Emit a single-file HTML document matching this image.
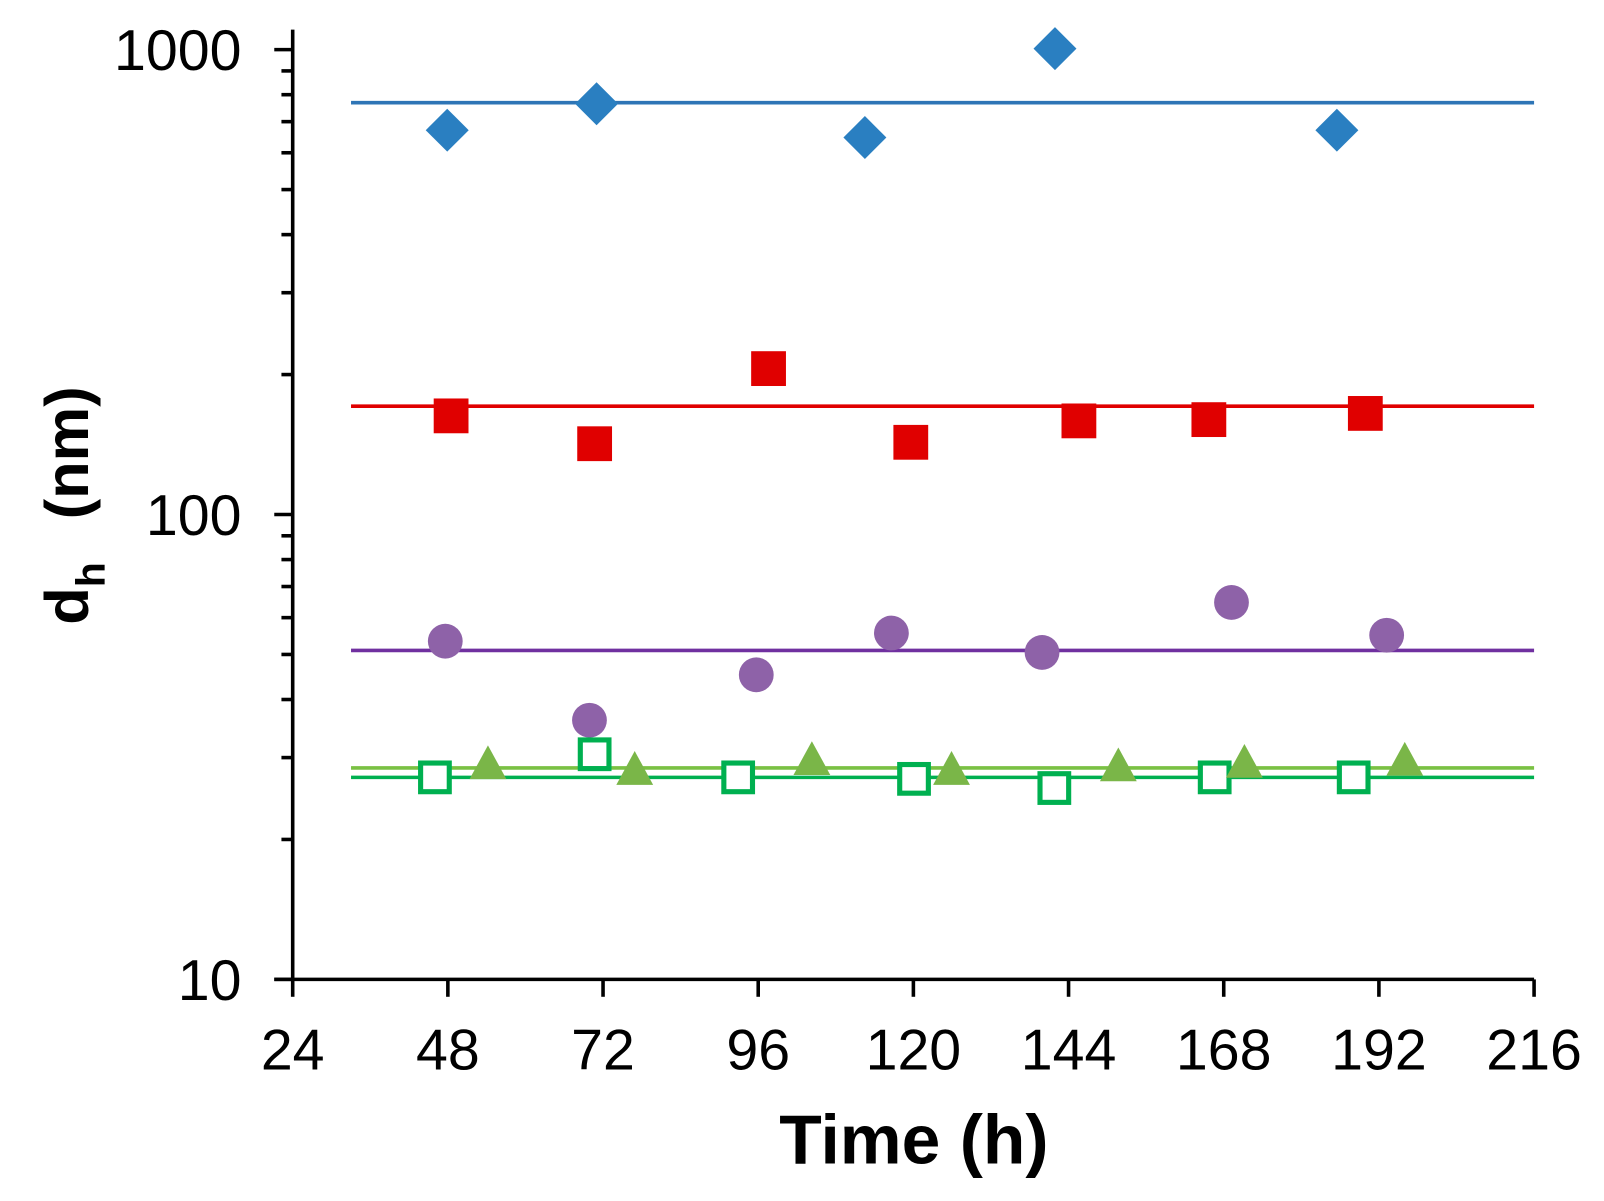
<!DOCTYPE html>
<html><head><meta charset="utf-8"><style>
html,body{margin:0;padding:0;background:#fff;}
svg{display:block;font-family:"Liberation Sans",Arial,sans-serif;}
</style></head><body>
<svg id="chart" width="1604" height="1201" viewBox="0 0 1604 1201">
<g transform="scale(1.0234)">
<g id="axes"></g><g id="series"></g>
<text x="893" y="1137" text-anchor="middle" font-size="68" font-weight="bold">Time (h)</text>
<text transform="translate(86,494) rotate(-90)" text-anchor="middle" font-size="60" font-weight="bold">d<tspan font-size="40" dy="16">h</tspan><tspan dy="-16" dx="42">(nm)</tspan></text>
</g>
</svg>
<script>
const xTicks=[24,48,72,96,120,144,168,192,216];
const yMajor=[10,100,1000];
const blueX=[47.9,71.0,112.5,141.9,185.5];
const blueY=[671,765,647,1005,671];
const blueFit=769;
const redX=[48.5,70.7,97.6,119.6,145.6,165.7,189.9];
const redY=[163,142,206,143,159,160,165];
const redFit=171;
const purpleX=[47.6,69.9,95.7,116.6,139.9,169.2,193.2];
const purpleY=[53.4,36.1,45.2,55.6,50.5,64.7,55.0];
const purpleFit=51;
const greenX=[46,70.7,92.9,120.1,141.8,166.6,188.1];
const greenY=[27.2,30.5,27.2,27.0,25.8,27.2,27.2];
const greenFit=27.2;
const limeX=[54.2,76.9,104.3,125.9,151.7,171.2,196.0];
const limeY=[28.8,28.0,29.4,28.0,28.5,29.0,29.3];
const limeFit=28.5;

const NS="http://www.w3.org/2000/svg";
const X0=286,X1=1499,Y10=957,Y1000=48.5;
const xs=v=>X0+(v-24)/(216-24)*(X1-X0);
const ys=v=>Y10-(Math.log10(v)-1)/2*(Y10-Y1000);
function mk(tag,attrs,parent){const e=document.createElementNS(NS,tag);for(const k in attrs)e.setAttribute(k,attrs[k]);parent.appendChild(e);return e;}
const axes=document.getElementById('axes'),ser=document.getElementById('series');

let yl=mk('line',{x1:X0,y1:29,x2:X0,y2:Y10,stroke:'#000','stroke-width':3.5},axes);


let xl=mk('line',{x1:X0-18,y1:Y10,x2:X1,y2:Y10,stroke:'#000','stroke-width':3.5},axes);


xTicks.forEach(t=>{
  let l=mk('line',{x1:xs(t),y1:Y10,x2:xs(t),y2:Y10+17,stroke:'#000','stroke-width':3.5},axes);
  
  
  let tx=mk('text',{x:xs(t),y:1045,'text-anchor':'middle','font-size':56},axes);tx.textContent=t;
  
  
});
yMajor.forEach(t=>{
  let l=mk('line',{x1:X0-18,y1:ys(t),x2:X0,y2:ys(t),stroke:'#000','stroke-width':3.5},axes);
  
  
  let tx=mk('text',{x:236,y:ys(t)+20,'text-anchor':'end','font-size':56},axes);tx.textContent=t;
  
  
});
[10,100].forEach(d=>{for(let m=2;m<=9;m++){
  let l=mk('line',{x1:X0-11,y1:ys(d*m),x2:X0,y2:ys(d*m),stroke:'#000','stroke-width':3.5},axes);
  
  
}});

function fit(v,color,name){
  let l=mk('line',{x1:343,y1:ys(v),x2:X1,y2:ys(v),stroke:color,'stroke-width':3.5},ser);
  
  
}
fit(blueFit,'#2e75b6','blue-fit-line');
fit(redFit,'#e00000','red-fit-line');
fit(purpleFit,'#7030a0','purple-fit-line');
fit(limeFit,'#7ac143','lime-fit-line');
fit(greenFit,'#00b050','green-fit-line');

blueX.forEach((x,i)=>{const cx=xs(x),cy=ys(blueY[i]),r=21;
  let p=mk('polygon',{points:`${cx},${cy-r} ${cx+r},${cy} ${cx},${cy+r} ${cx-r},${cy}`,fill:'#2a7fc1'},ser);
  
  });
redX.forEach((x,i)=>{const cx=xs(x),cy=ys(redY[i]);
  let p=mk('rect',{x:cx-17,y:cy-17,width:34,height:34,fill:'#e00000'},ser);
  
  });
purpleX.forEach((x,i)=>{
  let p=mk('circle',{cx:xs(x),cy:ys(purpleY[i]),r:17,fill:'#8e62a8'},ser);
  
  });
greenX.forEach((x,i)=>{const cx=xs(x),cy=ys(greenY[i]);
  let p=mk('rect',{x:cx-14,y:cy-14,width:28,height:28,fill:'#fff',stroke:'#00b050','stroke-width':5},ser);
  
  });
limeX.forEach((x,i)=>{const cx=xs(x),cy=ys(limeY[i]);
  let p=mk('polygon',{points:`${cx},${cy-20} ${cx+18},${cy+13} ${cx-18},${cy+13}`,fill:'#7ab648'},ser);
  
  });
</script>
</body></html>
